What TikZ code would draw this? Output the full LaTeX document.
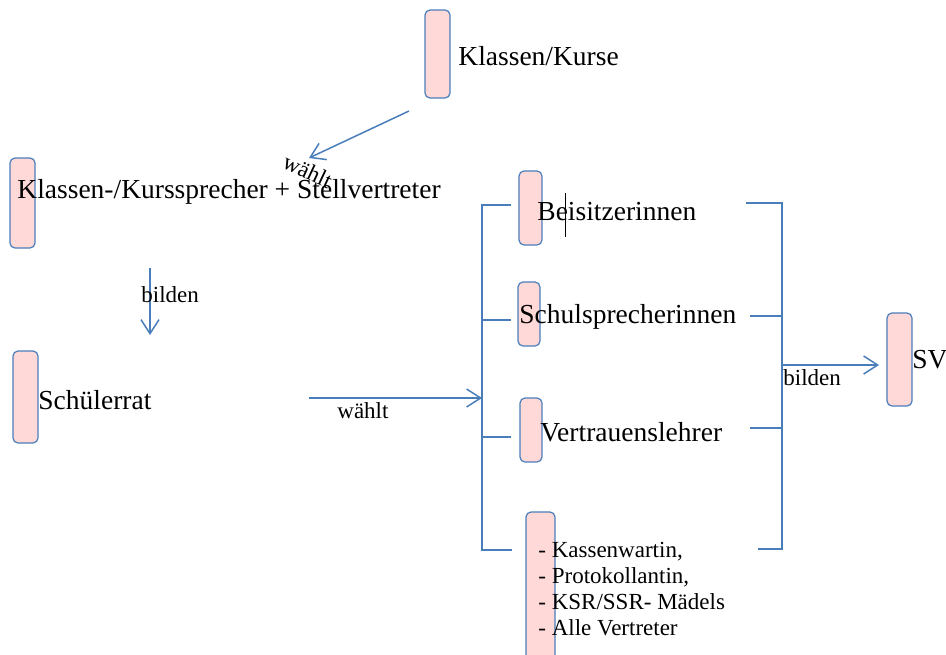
\documentclass[tikz,border=0pt]{standalone}
\usepackage{fontspec}
\setmainfont{Liberation Serif}
\usetikzlibrary{arrows.meta}
\definecolor{linkblue}{RGB}{74,126,187}
\definecolor{boxpink}{RGB}{255,216,216}
\begin{document}
\begin{tikzpicture}[x=0.5pt,y=-0.5pt,
    box/.style={draw=linkblue,fill=boxpink,rounded corners=2.5pt,line width=0.6pt,inner sep=0pt},
    lbl/.style={anchor=base west,inner sep=0pt,font=\fontsize{13.75}{16}\selectfont},
    small/.style={anchor=base west,inner sep=0pt,font=\fontsize{11.5}{13}\selectfont},
    link/.style={draw=linkblue,line width=0.75pt},
    arr/.style={link,-{Straight Barb[length=7pt,width=9pt,line width=0.75pt]}}]
    \useasboundingbox (0,0) rectangle (946,654);
    \clip (0,0) rectangle (946,654);

    % boxes
    \node[box,minimum width=12.5pt,minimum height=44pt] (kk) at (437.5,54) {};
    \node[box,minimum width=12.5pt,minimum height=45pt] (ks) at (22.5,203) {};
    \node[box,minimum width=12.5pt,minimum height=46pt] (sr) at (25.5,397) {};
    \node[box,minimum width=11.5pt,minimum height=37pt] (bs) at (530.5,208) {};
    \node[box,minimum width=11pt,minimum height=32pt] (sp) at (529,314) {};
    \node[box,minimum width=11pt,minimum height=32pt] (vl) at (531,430) {};
    \node[box,minimum width=14.5pt,minimum height=75pt] (rest) at (540.5,587) {};
    \node[box,minimum width=12.5pt,minimum height=46.5pt] (sv) at (899.5,359.5) {};

    % texts
    \node[lbl] (kk-t) at (458,65) {Klassen/Kurse};
    \node[lbl] (ks-t) at (17,198) {Klassen-/Kurssprecher + Stellvertreter};
    \node[lbl] (sr-t) at (38,409) {Schülerrat};
    \node[lbl] (bs-t) at (537,220) {Beisitzerinnen};
    \node[lbl] (sp-t) at (519,323) {Schulsprecherinnen};
    \node[lbl] (vl-t) at (540,441) {Vertrauenslehrer};
    \node[lbl] (sv-t) at (912,368) {SV};
    \node[small] (rest-1) at (538,557) {- Kassenwartin,};
    \node[small] (rest-2) at (538,583) {- Protokollantin,};
    \node[small] (rest-3) at (538,609) {- KSR/SSR- Mädels};
    \node[small] (rest-4) at (538,635) {- Alle Vertreter};
    \draw[black,line width=0.5pt] (565,193) -- (565,237);

    % connectors
    \coordinate (a1) at (409,111);
    \coordinate (a2) at (309,158);
    \coordinate (b1) at (150,268);
    \coordinate (b2) at (150,335);
    \coordinate (c1) at (309,398);
    \coordinate (c2) at (482,398);
    \coordinate (d1) at (782,365);
    \coordinate (d2) at (879,365);
    \draw[arr] (a1) -- (a2);
    \draw[arr] (b1) -- (b2);
    \draw[arr] (c1) -- (c2);
    \draw[arr] (d1) -- (d2);
    \node[small,rotate=-25] (w1) at (281,167) {wählt};
    \node[small] (bi1) at (141,302) {bilden};
    \node[small] (w2) at (337,418) {wählt};
    \node[small] (bi2) at (783,385) {bilden};

    % brackets
    \draw[link] (511,205) -- (482,205) -- (482,550) -- (512,550);
    \draw[link] (482,320) -- (511,320);
    \draw[link] (482,437) -- (511,437);
    \draw[link] (746,203) -- (782,203) -- (782,549) -- (758,549);
    \draw[link] (750,316) -- (782,316);
    \draw[link] (750,428) -- (782,428);
\end{tikzpicture}
\end{document}
